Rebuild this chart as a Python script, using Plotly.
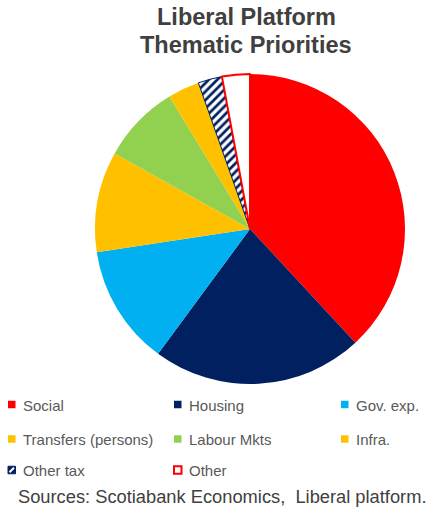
import plotly.graph_objects as go

# Share of platform spending by theme (%)
categories = ["Social", "Housing", "Gov. exp.", "Transfers (persons)",
              "Labour Mkts", "Infra.", "Other tax", "Other"]
shares = [38.1, 22.0, 12.5, 10.5, 8.2, 3.3, 2.5, 2.9]
colors = ["#FF0000", "#002060", "#00B0F0", "#FFC000",
          "#92D050", "#FFC000", "#FFFFFF", "#FFFFFF"]
line_colors = ["#FF0000", "#002060", "#00B0F0", "#FFC000",
               "#92D050", "#FFC000", "#002060", "#FF0000"]
line_widths = [0, 0, 0, 0, 0, 0, 1, 2]
patterns = ["", "", "", "", "", "", "/", ""]

W, H = 438, 508

fig = go.Figure(go.Pie(
    labels=categories,
    values=shares,
    sort=False,
    direction="clockwise",
    rotation=0,
    textinfo="none",
    hoverinfo="label+value",
    marker=dict(
        colors=colors,
        line=dict(color=line_colors, width=line_widths),
        pattern=dict(shape=patterns, fgcolor="#002060", bgcolor="#FFFFFF",
                     size=6, solidity=0.45, fillmode="replace"),
    ),
    domain=dict(x=[95 / W, 405 / W], y=[(H - 384) / H, (H - 74) / H]),
    showlegend=False,
))

shapes = []
annotations = []

# Title
annotations.append(dict(text="<b>Liberal Platform</b>", x=246 / W, y=1 - 31.7 / H,
                        xref="paper", yref="paper", xanchor="center", yanchor="bottom",
                        showarrow=False, font=dict(family="Liberation Sans", size=23.5, color="#404040")))
annotations.append(dict(text="<b>Thematic Priorities</b>", x=246 / W, y=1 - 60 / H,
                        xref="paper", yref="paper", xanchor="center", yanchor="bottom",
                        showarrow=False, font=dict(family="Liberation Sans", size=23.5, color="#404040")))

# Legend grid (3 columns)
col_x = [8, 174, 341]
row_y = [404.5, 439, 470]
for i, (name, fill, edge) in enumerate(zip(categories, colors, line_colors)):
    cx = col_x[i % 3]
    cy = row_y[i // 3]
    x0, x1 = cx, cx + 7.5
    y0, y1 = cy - 3.75, cy + 3.75
    if name == "Other":
        shapes.append(dict(type="rect", xref="paper", yref="paper",
                           x0=x0 / W, x1=x1 / W, y0=1 - y1 / H, y1=1 - y0 / H,
                           fillcolor="#FFFFFF", line=dict(color="#FF0000", width=2)))
    elif name == "Other tax":
        shapes.append(dict(type="rect", xref="paper", yref="paper",
                           x0=x0 / W, x1=x1 / W, y0=1 - y1 / H, y1=1 - y0 / H,
                           fillcolor="#002060", line=dict(color="#002060", width=1)))
        shapes.append(dict(type="line", xref="paper", yref="paper",
                           x0=(x0 + 1.5) / W, x1=(x1 - 1.5) / W,
                           y0=1 - (y1 - 1.5) / H, y1=1 - (y0 + 1.5) / H,
                           line=dict(color="#FFFFFF", width=2)))
    else:
        shapes.append(dict(type="rect", xref="paper", yref="paper",
                           x0=x0 / W, x1=x1 / W, y0=1 - y1 / H, y1=1 - y0 / H,
                           fillcolor=fill, line=dict(width=0)))
    annotations.append(dict(text=name, x=(cx + 12.5) / W, y=1 - (cy + 0.5) / H,
                            xref="paper", yref="paper", xanchor="left", yanchor="middle",
                            showarrow=False,
                            font=dict(family="Liberation Sans", size=15, color="#595959")))

# Source line
annotations.append(dict(text="Sources: Scotiabank Economics,  Liberal platform.",
                        x=221.5 / W, y=0, xref="paper", yref="paper",
                        xanchor="center", yanchor="bottom", showarrow=False,
                        borderpad=0,
                        font=dict(family="Liberation Sans", size=18.3, color="#404040")))

fig.update_layout(
    width=W, height=H,
    margin=dict(l=0, r=0, t=0, b=0),
    paper_bgcolor="#FFFFFF",
    plot_bgcolor="#FFFFFF",
    shapes=shapes,
    annotations=annotations,
    showlegend=False,
)

fig.write_html("out.html")
